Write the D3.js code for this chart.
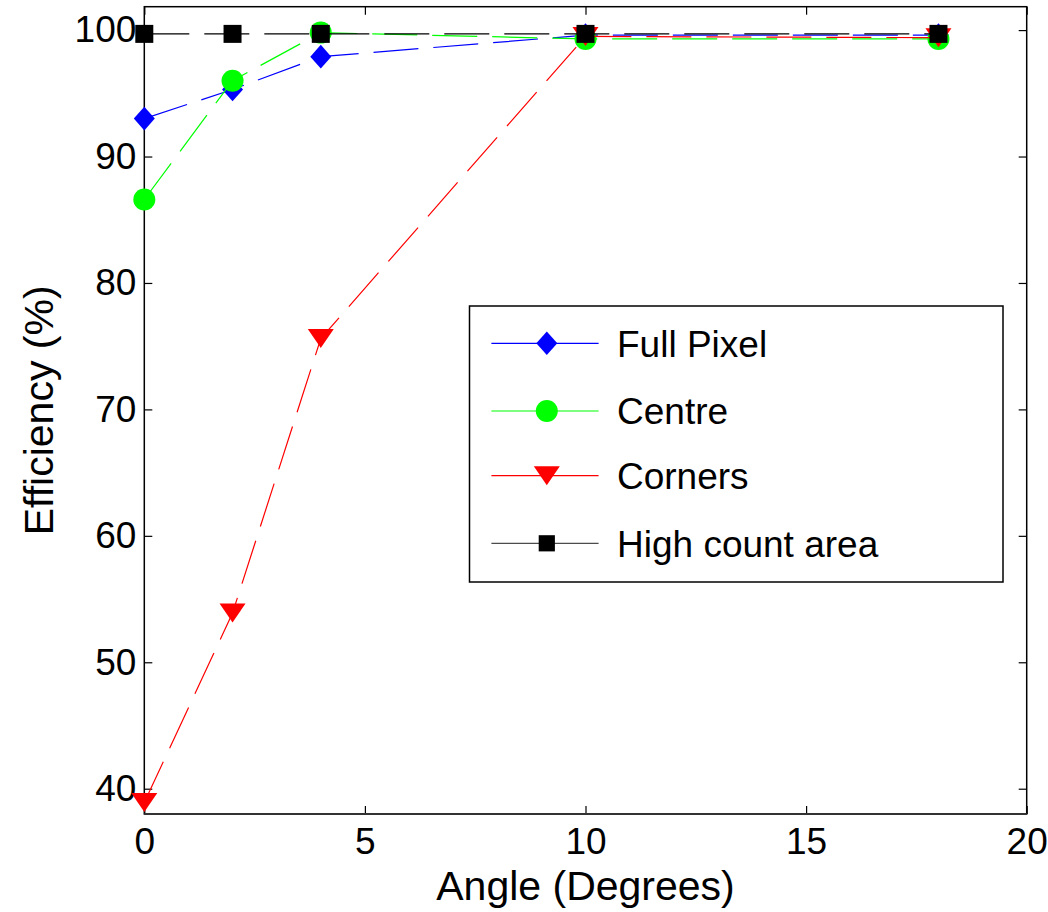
<!DOCTYPE html>
<html>
<head>
<meta charset="utf-8">
<script src="https://cdn.jsdelivr.net/npm/d3@7"></script>
<style>
  html, body { margin: 0; padding: 0; background: #fff; }
  svg { display: block; font-family: "Liberation Sans", Arial, Helvetica, sans-serif; }
</style>
</head>
<body>
<svg id="chart" width="1048" height="912"></svg>
<script>
// Detection efficiency versus incidence angle for several pixel regions
const angles = [0, 2, 4, 10, 18];
const fullPixel = [93.0, 95.3, 97.9, 99.6, 99.6];
const centre = [86.6, 96.0, 99.8, 99.3, 99.3];
const corners = [38.9, 53.9, 75.6, 99.5, 99.4];
const highCount = [99.7, 99.7, 99.7, 99.7, 99.7];

const seriesNames = ["Full Pixel", "Centre", "Corners", "High count area"];
const seriesColors = ["#0000ff", "#00ff00", "#ff0000", "#000000"];
const seriesMarkers = ["diamond", "circle", "triangleDown", "square"];
const seriesValues = [fullPixel, centre, corners, highCount];

const xTicks = [0, 5, 10, 15, 20];
const yTicks = [40, 50, 60, 70, 80, 90, 100];
const xLabel = "Angle (Degrees)";
const yLabel = "Efficiency (%)";

const svg = d3.select("#chart");
const plotLeft = 144.3, plotRight = 1026.7, plotTop = 6.7, plotBottom = 814;

const x = d3.scaleLinear().domain([0, 20]).range([plotLeft, plotRight]);
const y = d3.scaleLinear().domain([38, 101.85]).range([plotBottom, plotTop]);

// marker shape paths centred on (0,0)
function markerPath(kind, s) {
  s = s || 1;
  if (kind === "diamond") {
    const w = 10.5 * s, h = 11.8 * s;
    return `M0,${-h}L${w},0L0,${h}L${-w},0Z`;
  }
  if (kind === "circle") {
    const r = 11 * s;
    return `M${r},0A${r},${r} 0 1,1 ${-r},0A${r},${r} 0 1,1 ${r},0Z`;
  }
  if (kind === "triangleDown") {
    const w = 13 * s, h = 9.5 * s;
    return `M${-w},${-h}L${w},${-h}L0,${h}Z`;
  }
  const a = 9 * s;
  return `M${-a},${-a}H${a}V${a}H${-a}Z`;
}

// axes with inward ticks on all four sides
const fontTick = 37;
svg.append("g").attr("transform", `translate(0,${plotBottom})`)
  .call(d3.axisBottom(x).tickValues(xTicks).tickSize(-8).tickPadding(14).tickFormat(d3.format("d")));
svg.append("g").attr("transform", `translate(${plotLeft},0)`)
  .call(d3.axisLeft(y).tickValues(yTicks).tickSize(-8).tickPadding(8).tickFormat(d3.format("d")));
svg.append("g").attr("transform", `translate(0,${plotTop})`)
  .call(d3.axisTop(x).tickValues(xTicks).tickSize(-8).tickFormat(""));
svg.append("g").attr("transform", `translate(${plotRight},0)`)
  .call(d3.axisRight(y).tickValues(yTicks).tickSize(-8).tickFormat(""));

svg.selectAll(".domain").remove();
svg.selectAll(".tick line").attr("stroke", "#000").attr("stroke-width", 1.2);
svg.selectAll(".tick text")
  .attr("font-size", fontTick)
  .attr("fill", "#000")
  .attr("font-family", "Liberation Sans, Arial, sans-serif");

// frame
svg.append("rect")
  .attr("x", plotLeft).attr("y", plotTop)
  .attr("width", plotRight - plotLeft).attr("height", plotBottom - plotTop)
  .attr("fill", "none").attr("stroke", "#000").attr("stroke-width", 1.5);
svg.append("line")
  .attr("x1", plotLeft).attr("x2", plotRight).attr("y1", plotBottom).attr("y2", plotBottom)
  .attr("stroke", "#333").attr("stroke-width", 2.2);

// series: dashed line then markers, drawn in order
const line = d3.line().x(d => x(d[0])).y(d => y(d[1]));
seriesValues.forEach((vals, i) => {
  const pts = angles.map((a, j) => [a, vals[j]]);
  const g = svg.append("g");
  g.append("path")
    .attr("d", line(pts))
    .attr("fill", "none")
    .attr("stroke", seriesColors[i])
    .attr("stroke-width", 1.2)
    .attr("stroke-dasharray", "45,15");
  g.selectAll("path.mk").data(pts).enter().append("path")
    .attr("class", "mk")
    .attr("d", markerPath(seriesMarkers[i]))
    .attr("transform", d => `translate(${x(d[0])},${y(d[1])})`)
    .attr("fill", seriesColors[i]);
});

// legend
const lg = svg.append("g");
lg.append("rect")
  .attr("x", 469.5).attr("y", 306)
  .attr("width", 533.5).attr("height", 276)
  .attr("fill", "#fff").attr("stroke", "#000").attr("stroke-width", 1.5);
const rowY = [343.3, 411, 475.7, 543.3];
seriesNames.forEach((name, i) => {
  const cy = rowY[i];
  lg.append("line")
    .attr("x1", 491.4).attr("x2", 598.6).attr("y1", cy).attr("y2", cy)
    .attr("stroke", seriesColors[i]).attr("stroke-width", 1.2)
    .attr("stroke-opacity", i === 3 ? 0.7 : 1);
  lg.append("path")
    .attr("d", markerPath(seriesMarkers[i], i === 3 ? 0.9 : 1))
    .attr("transform", `translate(546.8,${cy})`)
    .attr("fill", seriesColors[i]);
  lg.append("text")
    .attr("x", 617).attr("y", cy + 13.3)
    .attr("font-size", 37)
    .attr("fill", "#000")
    .text(name);
});

// axis titles, centred on the plot box
svg.append("text")
  .attr("x", (plotLeft + plotRight) / 2).attr("y", 900)
  .attr("text-anchor", "middle")
  .attr("font-size", 41)
  .attr("fill", "#000")
  .text(xLabel);
svg.append("text")
  .attr("transform", `translate(53,${(plotTop + plotBottom) / 2}) rotate(-90)`)
  .attr("text-anchor", "middle")
  .attr("font-size", 41)
  .attr("fill", "#000")
  .text(yLabel);
</script>
</body>
</html>
